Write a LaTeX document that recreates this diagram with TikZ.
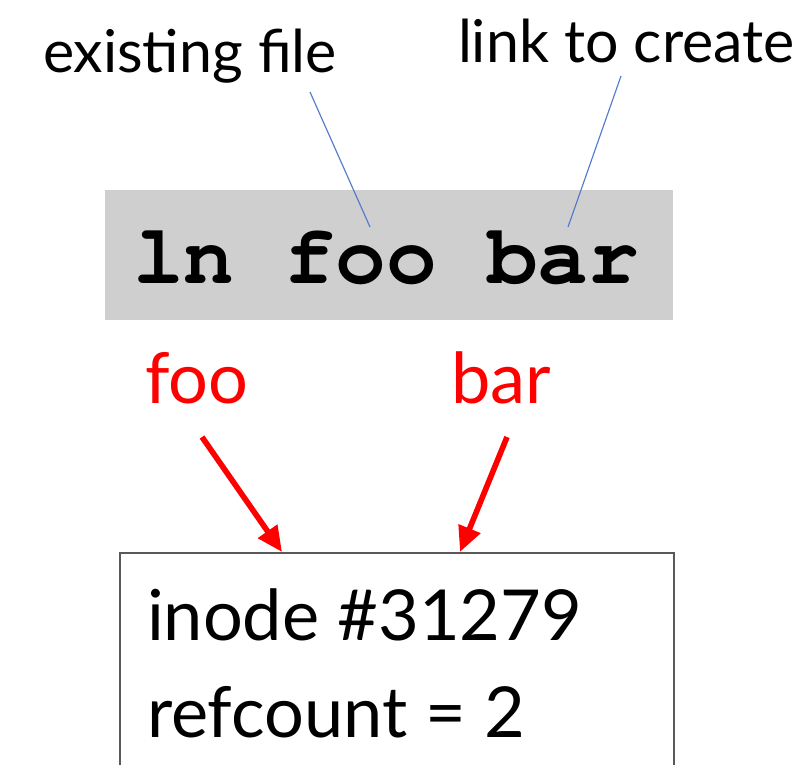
\documentclass[tikz,border=0pt]{standalone}
\usepackage[T1]{fontenc}
\usepackage{fontspec}
\setmainfont{Lato}
\usetikzlibrary{arrows.meta}

\definecolor{cmdgray}{RGB}{208,207,208}
\definecolor{hintblue}{RGB}{80,120,205}
\newcommand{\courier}{\fontencoding{T1}\fontfamily{pcr}\fontseries{b}\selectfont}

\begin{document}
\begin{tikzpicture}[x=0.025cm,y=-0.025cm,
                    every node/.style={inner sep=0pt,outer sep=0pt},
                    hint/.style={anchor=base west,font=\fontsize{42}{50}\selectfont},
                    linkname/.style={anchor=base west,text=red,font=\fontsize{50}{60}\selectfont},
                    cmdbox/.style={fill=cmdgray,minimum width=14.2cm,minimum height=3.25cm},
                    inodebox/.style={draw=black!65,line width=1.6pt,fill=white,anchor=north west,
                                     minimum width=13.85cm,minimum height=6cm},
                    info/.style={anchor=base west,font=\fontsize{50}{60}\selectfont},
                    pointer/.style={draw=hintblue,line width=0.8pt},
                    hardlink/.style={draw=red,line width=4pt,-{Triangle[length=18pt,width=16pt]}}]
  \useasboundingbox (0,0) rectangle (806,764);
  \clip (0,0) rectangle (806,764);
  % command line
  \node[cmdbox] (cmd) at (389,255) {};
  \node[anchor=base west,font=\courier\fontsize{60}{70}\selectfont] (cmdtext) at (133,283) {ln foo bar};
  \node[hint] (existing) at (43,72) {existing file};
  \node[hint] (create) at (458,62) {link to create};
  \coordinate (existingStart) at (310,92);
  \coordinate (createStart) at (621,76);
  \coordinate (existingEnd) at (370,227);
  \coordinate (createEnd) at (568,227);
  \draw[pointer] (existingStart) -- (existingEnd);
  \draw[pointer] (createStart) -- (createEnd);
  % directory entries
  \node[linkname] (foo) at (145,403) {foo};
  \node[linkname] (bar) at (451,403) {bar};
  % inode
  \node[inodebox] (inode) at (120,553) {};
  \node[info] (num) at (147,640) {inode \#31279};
  \node[info] (refs) at (147,737) {refcount = 2};
  \coordinate (fooTail) at (202,437);
  \coordinate (barTail) at (507,437);
  \coordinate (fooHead) at (282,552);
  \coordinate (barHead) at (460,552);
  \draw[hardlink] (fooTail) -- (fooHead);
  \draw[hardlink] (barTail) -- (barHead);
\end{tikzpicture}
\end{document}
